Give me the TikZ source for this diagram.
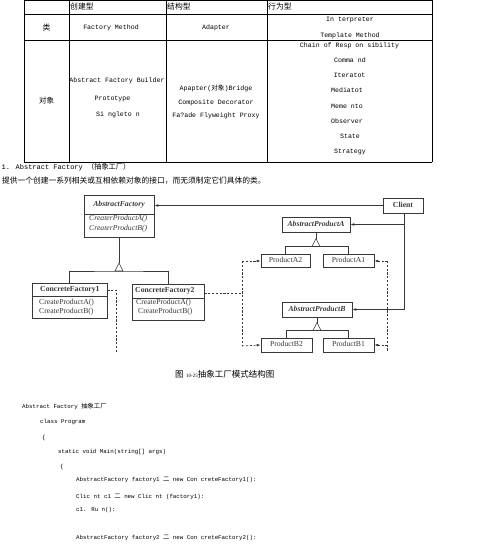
\documentclass[tikz,border=0pt]{standalone}
\usepackage{fontspec}
\setmainfont{Liberation Serif}
\newfontfamily\cjk{Noto Sans CJK SC}
\newfontfamily\mono{Liberation Mono}
\newcommand\kcjk{\cjk\fontsize{6.3}{7}\selectfont}
\usetikzlibrary{arrows.meta}
\definecolor{dg}{gray}{0.22}
\begin{document}
\begin{tikzpicture}[x=1pt,y=-1pt,
  tline/.style={line width=0.8pt,black},
  tb/.style={font=\mono\fontsize{6.6}{7}\selectfont, inner sep=0, text height=4.6pt, text depth=1.2pt},
  cn/.style={font=\cjk\fontsize{7.8}{8}\selectfont, inner sep=0},
  cls/.style={font=\fontsize{7.7}{8}\selectfont, inner sep=0, text height=5.4pt, text depth=1.6pt, text=dg},
  box/.style={draw=dg, line width=0.6pt, inner sep=0},
  ln/.style={draw=dg, line width=0.6pt},
  dsh/.style={draw=dg, line width=0.6pt, dash pattern=on 2.2pt off 1.6pt},
  arr/.style={-{Latex[length=4pt,width=2.6pt]}},
  code/.style={font=\mono\fontsize{5.8}{6}\selectfont, inner sep=0, anchor=west, text height=4pt, text depth=1.2pt}
]
\useasboundingbox (0,0) rectangle (498,550);
% ---------------- table ----------------
\foreach \yy in {0.5,14.3,40.7,162.3} \draw[tline] (24.3,\yy) -- (432.3,\yy);
\foreach \xx in {24.3,69.3,166.3,267.3,432.3} \draw[tline] (\xx,0) -- (\xx,162.3);
\node[cn,anchor=base west] (h1) at (70,9) {创建型};
\node[cn,anchor=base west] (h2) at (167,9) {结构型};
\node[cn,anchor=base west] (h3) at (268,9) {行为型};
\node[cn] (r1) at (46.5,27.5) {类};
\node[tb] (fm) at (111,27.5) {Factory Method};
\node[tb] (ad) at (216,27.5) {Adapter};
\node[tb] (ip) at (350,20) {In terpreter};
\node[tb] (tm) at (350,35.5) {Template Method};
\node[cn,font=\cjk\fontsize{7.5}{8}\selectfont] (r2) at (46.5,101) {对象};
\node[tb] (a1) at (117,81) {Abstract Factory Builder};
\node[tb] (a2) at (112.5,98.5) {Prototype};
\node[tb] (a3) at (118,114.5) {Si ngleto n};
\node[tb] (b1) at (216,89) {Apapter({\cjk\fontsize{6.6}{7}\selectfont 对象})Bridge};
\node[tb] (b2) at (216,102.5) {Composite Decorator};
\node[tb] (b3) at (216,116) {Fa?ade Flyweight Proxy};
\node[tb] (c1) at (349.5,45.7) {Chain of Resp on sibility};
\node[tb] (c2) at (350,60.7) {Comma nd};
\node[tb] (c3) at (349.6,75.7) {Iteratot};
\node[tb] (c4) at (347,90.7) {Mediatot};
\node[tb] (c5) at (347,106.7) {Meme nto};
\node[tb] (c6) at (347,121.7) {Observer};
\node[tb] (c7) at (350,136.7) {State};
\node[tb] (c8) at (350,151.7) {Strategy};
% ---------------- headings ----------------
\node[anchor=west,inner sep=0] (t1) at (1.5,166.7) {{\mono\fontsize{7}{7}\selectfont 1. Abstract Factory }{\cjk\fontsize{7.2}{7}\selectfont （抽象工厂）}};
\node[anchor=west,inner sep=0,cn,font=\cjk\fontsize{7.75}{8}\selectfont] (t2) at (2,180.5) {提供一个创建一系列相关或互相依赖对象的接口，而无须制定它们具体的类。};
% ---------------- UML diagram ----------------
% AbstractFactory
\node[box,minimum width=70pt,minimum height=42pt] (af) at (119,216) {};
\draw[ln] (af.west |- 0,214) -- (af.east |- 0,214);
\node[cls,font=\bfseries\itshape\fontsize{7.7}{8}\selectfont] (afn) at (119,205) {AbstractFactory};
\node[cls,font=\itshape\fontsize{7.7}{8}\selectfont,anchor=west] (afm1) at (89,219) {CreaterProductA()};
\node[cls,font=\itshape\fontsize{7.7}{8}\selectfont,anchor=west] (afm2) at (89,228.5) {CreaterProductB()};
% ConcreteFactory1
\node[box,minimum width=75pt,minimum height=35pt] (cf1) at (69.5,300.5) {};
\draw[ln] (cf1.west |- 0,296) -- (cf1.east |- 0,296);
\node[cls,font=\bfseries\fontsize{7.7}{8}\selectfont,anchor=west] (cf1n) at (40,289.5) {ConcreteFactory1};
\node[cls,anchor=west] (cf1m1) at (39,302.5) {CreateProductA()};
\node[cls,anchor=west] (cf1m2) at (39,311.7) {CreateProductB()};
% ConcreteFactory2
\node[box,minimum width=72pt,minimum height=36pt] (cf2) at (168,302) {};
\draw[ln] (cf2.west |- 0,298) -- (cf2.east |- 0,298);
\node[cls,font=\bfseries\fontsize{7.7}{8}\selectfont,anchor=west] (cf2n) at (135,291) {ConcreteFactory2};
\node[cls,anchor=west] (cf2m1) at (136,302.5) {CreateProductA()};
\node[cls,anchor=west] (cf2m2) at (138,311.7) {CreateProductB()};
% inheritance AF
\coordinate (tA) at (119,263);
\draw[ln] (af.south) -- (tA);
\draw[ln] (tA) -- ++(-4,8) -- ++(8,0) -- cycle;
\coordinate (tAb) at (119,271);
\draw[ln] (cf1.north) |- (tAb) -| (cf2.north);
% Client
\node[box,minimum width=40pt,minimum height=15pt] (cl) at (403,205.5) {};
\node[cls,font=\bfseries\fontsize{7.7}{8}\selectfont] (cln) at (403,205.5) {Client};
\draw[ln,arr] (cl.west) -- (af.east |- cl.west);
% AbstractProductA
\node[box,minimum width=68pt,minimum height=15pt] (apa) at (316,224.5) {};
\node[cls,font=\bfseries\itshape\fontsize{7.7}{8}\selectfont] (apan) at (316,224.5) {AbstractProductA};
\node[box,minimum width=49pt,minimum height=13.5pt] (pa2) at (285.5,261) {};
\node[cls] (pa2n) at (285.5,261) {ProductA2};
\node[box,minimum width=51pt,minimum height=13.5pt] (pa1) at (348.5,261) {};
\node[cls] (pa1n) at (348.5,261) {ProductA1};
\coordinate (tB) at (316,238.5);
\draw[ln] (apa.south) -- (tB);
\draw[ln] (tB) -- ++(-4,8) -- ++(8,0) -- cycle;
\coordinate (tBb) at (316,246.5);
\draw[ln] (pa2.north) |- (tBb) -| (pa1.north);
% AbstractProductB
\node[box,minimum width=70pt,minimum height=15pt] (apb) at (317,309.5) {};
\node[cls,font=\bfseries\itshape\fontsize{7.7}{8}\selectfont] (apbn) at (317,309.5) {AbstractProductB};
\node[box,minimum width=51pt,minimum height=14pt] (pb2) at (286.5,345) {};
\node[cls] (pb2n) at (286.5,345) {ProductB2};
\node[box,minimum width=51pt,minimum height=14pt] (pb1) at (348.5,345) {};
\node[cls] (pb1n) at (348.5,345) {ProductB1};
\coordinate (tC) at (317,322.5);
\draw[ln] (apb.south) -- (tC);
\draw[ln] (tC) -- ++(-4,8) -- ++(8,0) -- cycle;
\coordinate (tCb) at (317,330.5);
\draw[ln] (pb2.north) |- (tCb) -| (pb1.north);
% Client to products
\coordinate (clB) at (404,309.5);
\draw[ln] (cl.south -| clB) -- (clB);
\draw[ln,arr] (clB |- apa.east) -- (apa.east);
\draw[ln,arr] (clB) -- (apb.east);
% dependencies
\coordinate (d1) at (116,290);
\coordinate (d1b) at (116,352);
\draw[dsh] (cf1.east |- d1) -- (d1) -- (d1b);
\coordinate (d2) at (242,293);
\coordinate (d2t) at (242,261);
\coordinate (d2b) at (242,346);
\draw[dsh] (cf2.east |- d2) -- (d2);
\draw[dsh] (d2t) -- (d2b);
\draw[dsh,arr] (d2t) -- (pa2.west);
\draw[dsh,arr] (d2b) -- (pb2.west);
\coordinate (d3t) at (387.5,261);
\coordinate (d3b) at (387.5,352);
\coordinate (d3m) at (387.5,345);
\draw[dsh] (d3t) -- (d3b);
\draw[dsh,arr] (d3t) -- (pa1.east);
\draw[dsh,arr] (d3m) -- (pb1.east);
% caption
\node[anchor=west,inner sep=0] (cap) at (175,374) {{\cjk\fontsize{8.5}{9}\selectfont 图} {\fontsize{5}{6}\selectfont 10-25}{\cjk\fontsize{8.5}{9}\selectfont 抽象工厂模式结构图}};
% ---------------- code ----------------
\node[code] (k0) at (22,407) {Abstract Factory {\kcjk 抽象工厂}};
\node[code] (k1) at (40,422) {class Program};
\node[code] (k2) at (42,438) {\{};
\node[code] (k3) at (58,452.5) {static void Main(string[] args)};
\node[code] (k4) at (60,467) {\{};
\node[code] (k5) at (76,480.5) {AbstractFactory factory1 {\kcjk 二} new Con creteFactory1():};
\node[code] (k6) at (76,497) {Clic nt c1 {\kcjk 二} new Clic nt (factory1):};
\node[code] (k7) at (76,510) {c1. Ru n():};
\node[code] (k8) at (76,538.5) {AbstractFactory factory2 {\kcjk 二} new Con creteFactory2():};
\end{tikzpicture}
\end{document}
